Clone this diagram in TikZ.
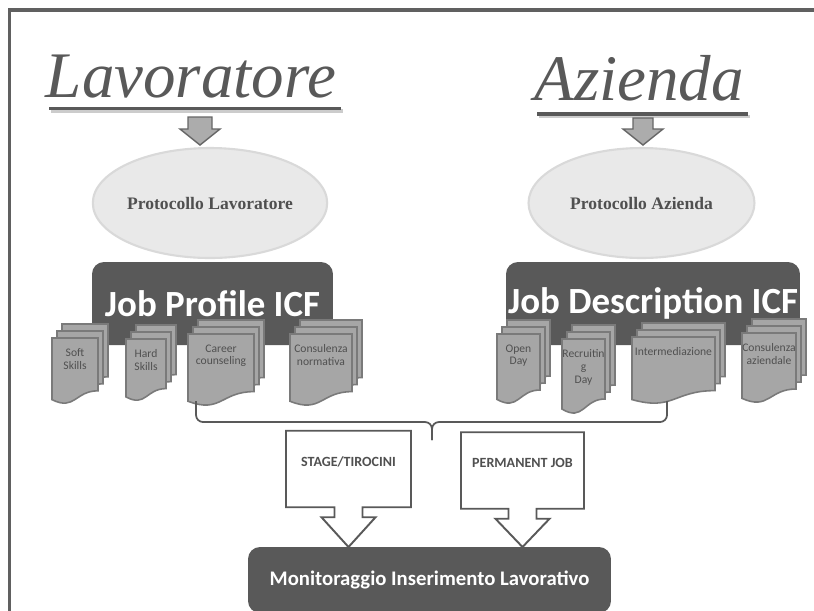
\documentclass[tikz,border=0pt]{standalone}
\usepackage{fontspec}
\setmainfont{Liberation Serif}
\newfontfamily\calfont{Carlito}
\usetikzlibrary{shapes.geometric,calc}
\definecolor{darkbox}{HTML}{595959}
\definecolor{pagefill}{HTML}{A6A6A6}
\definecolor{pageline}{HTML}{7A7A7A}
\definecolor{inktext}{HTML}{505050}

% one sheet of a document stack: x, y, width, height (pixel units)
\newcommand\docpage[4]{\filldraw[docpage] (#1,#2) -- ({#1+#3},#2) -- ({#1+#3},{#2+0.8*#4})
  .. controls ({#1+0.5*#3},{#2+0.8*#4}) and ({#1+0.5*#3},{#2+1.107*#4}) .. (#1,{#2+0.934*#4}) -- cycle;}
% name, x, y, width, height, text
\newcommand\docstack[6]{\docpage{#2+10}{#3-14}{#4}{#5}\docpage{#2+5}{#3-7}{#4}{#5}\docpage{#2}{#3}{#4}{#5}
  \draw ({#2+0.5*#4},{#3+9}) node[doctext] (#1) {#6};}
% outline of a down arrow callout, tip on the monitoring box
\newcommand\calloutpath[1]{\draw[calloutline] (#1.south west) -- (#1.north west) -- (#1.north east) -- (#1.south east)
  -- ($(#1.south)+(14,0)$) -- ($(#1.south)+(14,10)$) -- ($(#1.south)+(27,10)$) -- (#1.south |- mon.north)
  -- ($(#1.south)+(-27,10)$) -- ($(#1.south)+(-14,10)$) -- ($(#1.south)+(-14,0)$) -- cycle;}

\begin{document}
\begin{tikzpicture}[x=0.02cm,y=-0.02cm,inner sep=0pt,outer sep=0pt,
title/.style={anchor=base,font=\itshape\fontsize{37}{40}\selectfont,text=darkbox},
uline/.style={draw=darkbox,line width=2pt},
ulineshadow/.style={draw=gray!40,line width=2pt},
blockarrow/.style={fill=gray!65,draw=gray!80!black,line width=0.8pt},
protocol/.style={ellipse,draw=gray!30,line width=1.2pt,fill=gray!17,minimum width=4.52cm,minimum height=2.2cm,
  font=\bfseries\fontsize{10}{12}\selectfont,text=inktext},
jobbox/.style={rectangle,rounded corners=0.24cm,fill=darkbox,minimum height=1.66cm,text=white,
  font=\calfont\bfseries\fontsize{21}{24}\selectfont},
docpage/.style={fill=pagefill,draw=pageline,line width=0.9pt},
doctext/.style={anchor=north,align=center,inner sep=1pt,text=inktext,font=\calfont\fontsize{6.6}{7.2}\selectfont},
brace/.style={draw=darkbox,line width=1pt,rounded corners=4pt},
callbox/.style={rectangle,minimum width=2.5cm,minimum height=1.53cm,text depth=0.3cm,text=inktext,
  font=\calfont\bfseries\fontsize{8}{9}\selectfont},
calloutline/.style={draw=darkbox,line width=1.1pt,line join=miter},
frame/.style={draw=gray!75!black,line width=2pt}]
\useasboundingbox (0,0) rectangle (814,610);
\clip (0,0) rectangle (814,610);
\draw[frame] (9.5,10) rectangle (840,640);

% titles
\draw (191,97) node[title] (lav) {Lavoratore};
\draw[ulineshadow] (51,111) -- (343,111);
\draw[uline] (49,108.5) -- (341,108.5);
\draw (639,100) node[title] (azi) {Azienda};
\draw[ulineshadow] (539,116.5) -- (750,116.5);
\draw[uline] (537,114) -- (748,114);

% protocols
\coordinate (arrL) at (200,117);
\coordinate (arrA) at (643,118);
\filldraw[blockarrow] (arrL) ++(-12,0) -- ++(24,0) -- ++(0,12) -- ++(8,0) -- ++(-20,16) -- ++(-20,-16) -- ++(8,0) -- cycle;
\filldraw[blockarrow] (arrA) ++(-10,0) -- ++(20,0) -- ++(0,11) -- ++(10,0) -- ++(-20,16) -- ++(-20,-16) -- ++(10,0) -- cycle;
\draw (210,203) node[protocol] (protL) {Protocollo Lavoratore};
\draw (641.5,203) node[protocol] (protA) {Protocollo Azienda};

% job boxes
\draw (212.5,303.5) node[jobbox,minimum width=4.82cm] (jobP) {Job Profile ICF};
\draw (653,303.5) node[jobbox,minimum width=5.88cm] (jobD) {Job Description ICF};

% document stacks
\docstack{soft}{52}{338}{46}{66}{Soft\\Skills}
\docstack{hard}{126}{339}{40}{62}{Hard\\Skills}
\docstack{career}{188}{334}{66}{72}{Career\\counseling}
\docstack{norm}{290}{334}{62}{72}{Consulenza\\normativa}
\docstack{open}{497}{334}{43}{70}{Open\\Day}
\docstack{recr}{562}{339}{43}{75}{Recruitin\\g\\Day}
\docstack{inter}{632}{337}{83}{67}{Intermediazione}
\docstack{cons}{742}{333}{54}{70}{Consulenza\\aziendale}

% brace
\coordinate (brL) at (196,401);
\coordinate (brR) at (667,401);
\coordinate (brmid) at (432,422);
\coordinate (brtip) at (432,440);
\draw[brace] (brL) |- (brmid) -- (brtip);
\draw[brace] (brR) |- (brmid) -- (brtip);

% outcomes
\draw (429.5,580) node[jobbox,minimum width=7.26cm,minimum height=1.32cm,font=\calfont\bfseries\fontsize{11.8}{14}\selectfont] (mon) {Monitoraggio Inserimento Lavorativo};
\draw (348.5,469) node[callbox] (stage) {STAGE/TIROCINI};
\draw (522.5,470.5) node[callbox,minimum width=2.46cm] (perm) {PERMANENT JOB};
\calloutpath{stage}
\calloutpath{perm}

\end{tikzpicture}
\end{document}
